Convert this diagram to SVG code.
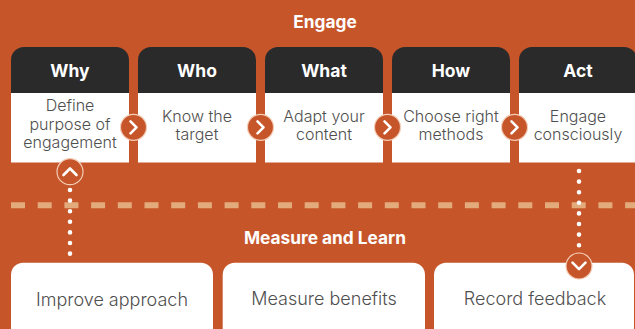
<svg xmlns="http://www.w3.org/2000/svg" width="635" height="329" viewBox="0 0 635 329">
<style>
.title{font-family:Inter,"Liberation Sans",sans-serif;font-weight:700;fill:#fff;text-anchor:middle;font-size:17.3px}
.hd{fill:#2a2a2a}
.body{fill:#fff}
.htxt{font-family:Inter,"Liberation Sans",sans-serif;font-weight:700;fill:#fff;text-anchor:middle;font-size:17.5px}
.btxt{font-family:Inter,"Liberation Sans",sans-serif;font-weight:300;fill:#4f4f4f;text-anchor:middle;font-size:16px}
.box{fill:#fff}
.ltxt{font-family:Inter,"Liberation Sans",sans-serif;font-weight:300;fill:#4f4f4f;text-anchor:middle;font-size:18px}
.circ{fill:#c6552a;stroke:#f3cdb6;stroke-width:1.2}
.chev{fill:none;stroke:#fff;stroke-width:2.6;stroke-linecap:round;stroke-linejoin:round}
.dots{fill:none;stroke:#fff;stroke-width:4.6;stroke-linecap:round;stroke-dasharray:0 10.6}
</style>
<rect width="635" height="329" fill="#c6552a"/>
<text class="title" x="325" y="27.5">Engage</text>

<g id="why">
<path class="hd" d="M11 93V60a13 13 0 0 1 13-13h92a13 13 0 0 1 13 13v33z"/>
<rect class="body" x="11" y="93" width="118" height="69.5"/>
<text class="htxt" x="70" y="77">Why</text>
<text class="btxt"><tspan x="70" y="111">Define</tspan><tspan x="70" y="129.5">purpose of</tspan><tspan x="70" y="148">engagement</tspan></text>
</g>
<g id="who">
<path class="hd" d="M138 93V60a13 13 0 0 1 13-13h92a13 13 0 0 1 13 13v33z"/>
<rect class="body" x="138" y="93" width="118" height="69.5"/>
<text class="htxt" x="197" y="77">Who</text>
<text class="btxt"><tspan x="197" y="121.5">Know the</tspan><tspan x="197" y="139.5">target</tspan></text>
</g>
<g id="what">
<path class="hd" d="M265 93V60a13 13 0 0 1 13-13h92a13 13 0 0 1 13 13v33z"/>
<rect class="body" x="265" y="93" width="118" height="69.5"/>
<text class="htxt" x="324" y="77">What</text>
<text class="btxt"><tspan x="324" y="121.5">Adapt your</tspan><tspan x="324" y="139.5">content</tspan></text>
</g>
<g id="how">
<path class="hd" d="M392 93V60a13 13 0 0 1 13-13h92a13 13 0 0 1 13 13v33z"/>
<rect class="body" x="392" y="93" width="118" height="69.5"/>
<text class="htxt" x="451" y="77">How</text>
<text class="btxt"><tspan x="451" y="121.5">Choose right</tspan><tspan x="451" y="139.5">methods</tspan></text>
</g>
<g id="act">
<path class="hd" d="M519 93V60a13 13 0 0 1 13-13h92a13 13 0 0 1 13 13v33z"/>
<rect class="body" x="519" y="93" width="118" height="69.5"/>
<text class="htxt" x="578" y="77">Act</text>
<text class="btxt"><tspan x="578" y="121.5">Engage</tspan><tspan x="578" y="139.5">consciously</tspan></text>
</g>

<line x1="11" y1="205.3" x2="635" y2="205.3" stroke="#e3aa7c" stroke-width="6" stroke-dasharray="14 12.7"/>

<text class="title" x="325" y="243.5">Measure and Learn</text>

<g id="improve">
<rect class="box" x="11" y="262.7" width="202" height="90" rx="12"/>
<text class="ltxt" x="112" y="305.5">Improve approach</text>
</g>
<g id="measure">
<rect class="box" x="222.7" y="262.7" width="202.3" height="90" rx="12"/>
<text class="ltxt" x="324" y="305">Measure benefits</text>
</g>
<g id="record">
<rect class="box" x="434" y="262.7" width="200" height="90" rx="12"/>
<text class="ltxt" x="535" y="305">Record feedback</text>
</g>

<g id="connectors">
<line class="dots" x1="70" y1="190" x2="70" y2="262"/>
<line class="dots" x1="579" y1="171" x2="579" y2="250"/>
<circle class="circ" cx="133.5" cy="127.3" r="13"/>
<path class="chev" d="M130.5 121.3l6 6-6 6"/>
<circle class="circ" cx="260.5" cy="127.3" r="13"/>
<path class="chev" d="M257.5 121.3l6 6-6 6"/>
<circle class="circ" cx="387.5" cy="127.3" r="13"/>
<path class="chev" d="M384.5 121.3l6 6-6 6"/>
<circle class="circ" cx="514.5" cy="127.3" r="13"/>
<path class="chev" d="M511.5 121.3l6 6-6 6"/>
<circle class="circ" cx="70" cy="171.7" r="13"/>
<path class="chev" d="M63.5 175l6.5-6.5 6.5 6.5"/>
<circle class="circ" cx="579" cy="266" r="13"/>
<path class="chev" d="M572.5 262.7l6.5 6.5 6.5-6.5"/>
</g>
</svg>
